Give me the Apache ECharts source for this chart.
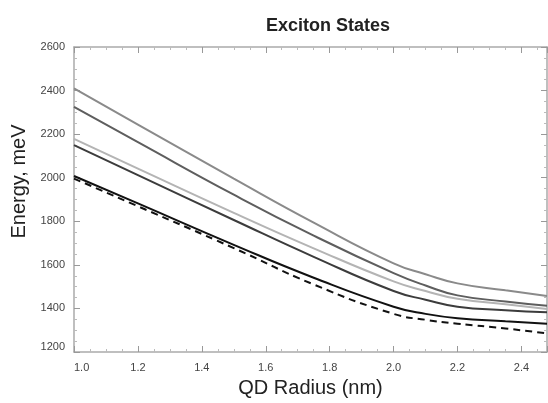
<!DOCTYPE html>
<html>
<head>
<meta charset="utf-8">
<script src="https://cdn.jsdelivr.net/npm/echarts@6/dist/echarts.min.js"></script>
<style>
  html, body { margin: 0; padding: 0; background: #fff; }
  #chart { width: 548px; height: 403px; }
</style>
</head>
<body>
<div id="chart"></div>
<script>
var radius = [1.0, 1.2, 1.5, 1.75, 2.0, 2.1, 2.2, 2.35, 2.48];

// exciton state energies, meV
var state1 = [2410, 2244, 1996, 1794, 1607, 1557, 1515, 1483, 1457];
var state2 = [2325, 2163, 1922, 1734, 1562, 1505, 1460, 1432, 1412];
var state3 = [2178, 2042, 1839, 1676, 1524, 1480, 1444, 1419, 1397];
var state4 = [2150, 2012, 1806, 1637, 1480, 1440, 1408, 1392, 1382];
var state5 = [2008, 1882, 1692, 1541, 1408, 1375, 1355, 1341, 1330];
var state6 = [1996, 1869, 1677, 1510, 1375, 1348, 1330, 1308, 1285];

function pairs(ys) {
  return radius.map(function (x, i) { return [x, ys[i]]; });
}

var chart = echarts.init(document.getElementById('chart'));

var axisGray = '#aaaaaa';
var tickFont = { color: '#444', fontSize: 11, fontFamily: 'Liberation Sans Narrow, Arial Narrow, Liberation Sans, sans-serif' };

function frameAxis(pos, showLabels) {
  return {
    position: pos,
    axisLine: { show: true, lineStyle: { color: axisGray, width: 1.5 } },
    axisTick: { show: true, inside: true, length: 6, lineStyle: { color: '#999' } },
    minorTick: { show: true, splitNumber: 4, length: 3, lineStyle: { color: '#bbb' } },
    splitLine: { show: false },
    axisLabel: { show: showLabels }
  };
}

var xBottom = Object.assign(frameAxis('bottom', true), {
  type: 'value', min: 1.0, max: 2.48, interval: 0.2,
  name: 'QD Radius (nm)', nameLocation: 'middle', nameGap: 26,
  nameTextStyle: { fontSize: 20, color: '#222', fontFamily: 'Liberation Sans, Arial, sans-serif' }
});
xBottom.axisLabel = Object.assign({ show: true, margin: 10, showMaxLabel: false, alignMinLabel: 'left',
  formatter: function (v) { return v.toFixed(1); } }, tickFont);

var xTop = Object.assign(frameAxis('top', false), {
  type: 'value', min: 1.0, max: 2.48, interval: 0.2
});

var yLeft = Object.assign(frameAxis('left', true), {
  type: 'value', min: 1200, max: 2600, interval: 200,
  name: 'Energy, meV', nameLocation: 'middle', nameGap: 44, nameRotate: 90,
  nameTextStyle: { fontSize: 20, color: '#222', fontFamily: 'Liberation Sans, Arial, sans-serif',
    padding: [0, 0, 0, 36] }
});
yLeft.axisLabel = Object.assign({ show: true, margin: 9, verticalAlignMinLabel: 'bottom',
  formatter: function (v) { return String(v); } }, tickFont);

var yRight = Object.assign(frameAxis('right', false), {
  type: 'value', min: 1200, max: 2600, interval: 200
});

function curve(name, data, color, width, dashed) {
  return {
    name: name,
    type: 'line',
    data: pairs(data),
    smooth: 0.5,
    symbol: 'none',
    lineStyle: { color: color, width: width, type: dashed ? [7, 5] : 'solid' },
    z: 3
  };
}

var option = {
  animation: false,
  backgroundColor: '#fff',
  title: {
    text: 'Exciton States',
    left: 323, top: 12, textAlign: 'center',
    textStyle: { fontSize: 18, fontWeight: 'bold', color: '#222', fontFamily: 'Liberation Sans, Arial, sans-serif' }
  },
  grid: { left: 74, right: 1, top: 47, bottom: 44, containLabel: false },
  xAxis: [xBottom, xTop],
  yAxis: [yLeft, yRight],
  series: [
    curve('state 1', state1, '#8a8a8a', 2),
    curve('state 2', state2, '#5e5e5e', 2),
    curve('state 3', state3, '#b4b4b4', 2),
    curve('state 4', state4, '#3c3c3c', 2),
    curve('state 5', state5, '#111111', 2),
    curve('state 6', state6, '#111111', 2, true)
  ]
};

chart.setOption(option);
</script>
</body>
</html>
